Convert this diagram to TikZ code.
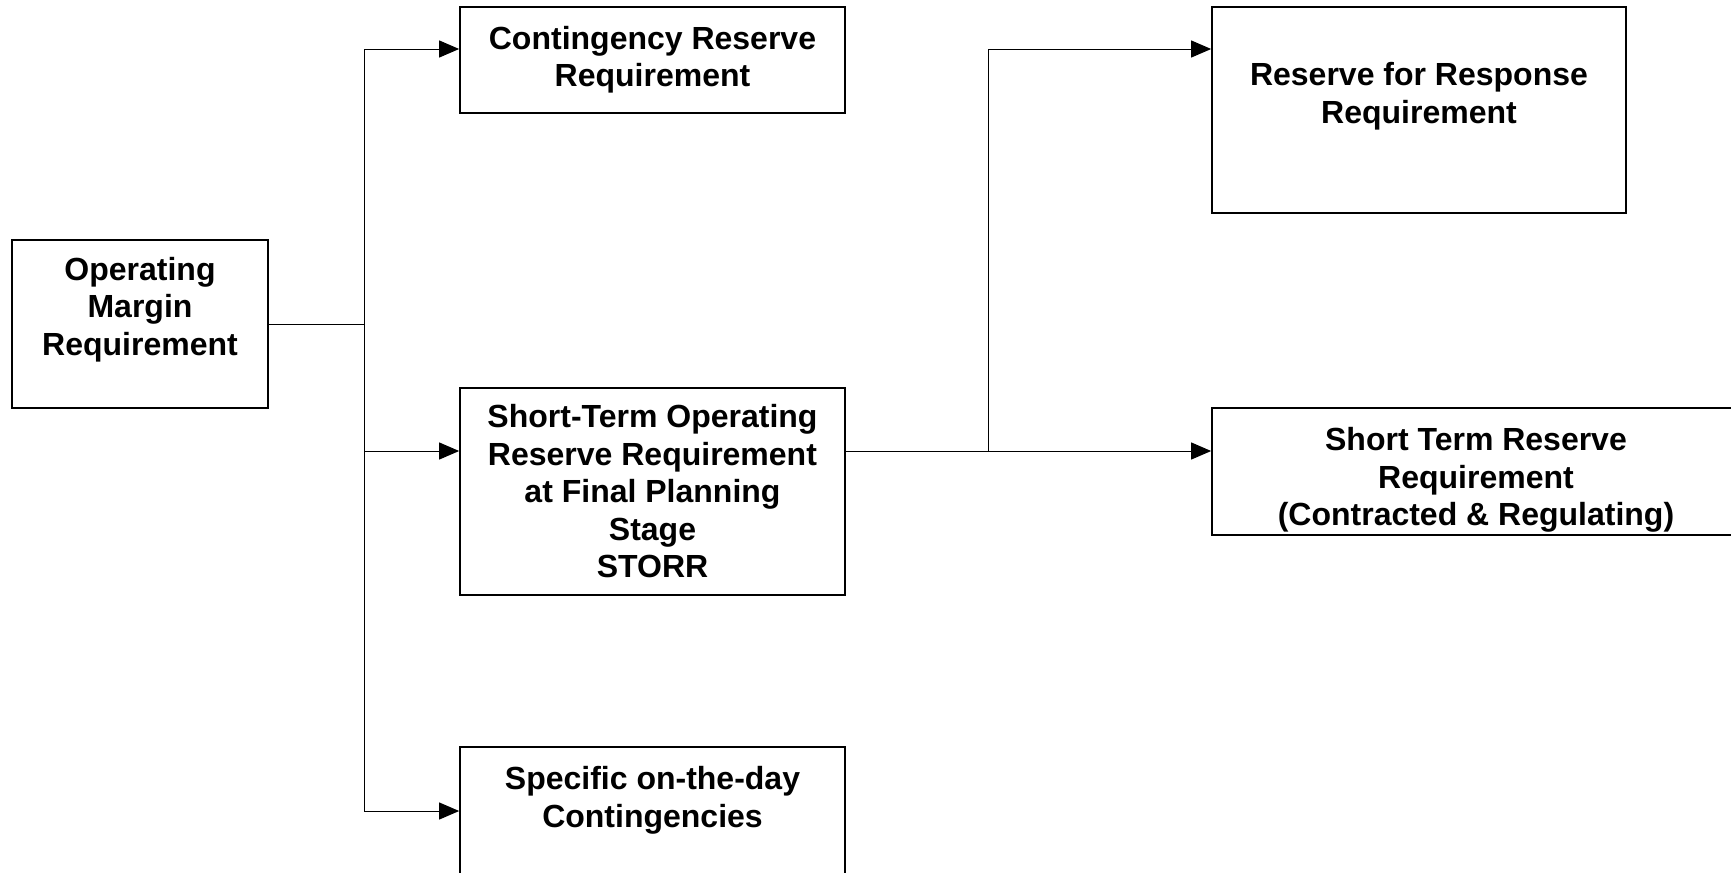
\documentclass[tikz,border=0pt]{standalone}
\usepackage{fontspec}
\setmainfont{Liberation Sans}
\usetikzlibrary{arrows.meta}
\begin{document}
\begin{tikzpicture}[x=0.5pt,y=-0.5pt,
  box/.style={draw, line width=0.85pt, rectangle, inner sep=0pt},
  lbl/.style={font=\fontsize{16}{18.8}\selectfont\bfseries, align=center, anchor=north, inner sep=0pt},
  conn/.style={draw, line width=0.5pt},
  arr/.style={conn, -{Triangle[length=10pt,width=8.5pt]}}]
\useasboundingbox (0,0) rectangle (1731,873);
\clip (0,0) rectangle (1731,873);
% boxes
\node[box, minimum width=128pt, minimum height=84pt] (omr) at (140,324) {};
\node[box, minimum width=192.5pt, minimum height=53pt] (crr) at (652.5,60) {};
\node[box, minimum width=192.5pt, minimum height=103.5pt] (storr) at (652.5,491.5) {};
\node[box, minimum width=192.5pt, minimum height=76.5pt] (sotd) at (652.5,823.5) {};
\node[box, minimum width=207pt, minimum height=103pt] (rfr) at (1419,110) {};
\node[box, minimum width=264pt, minimum height=63.5pt] (str) at (1476,471.5) {};
% labels
\node[lbl] (omr-t) at (140,256.5) {Operating\\Margin\\Requirement};
\node[lbl] (crr-t) at (652.5,25.5) {Contingency Reserve\\Requirement};
\node[lbl] (storr-t) at (652.5,404) {Short-Term Operating\\Reserve Requirement\\at Final Planning\\Stage\\STORR};
\node[lbl] (sotd-t) at (652.5,766) {Specific on-the-day\\Contingencies};
\node[lbl] (rfr-t) at (1419,62) {Reserve for Response\\Requirement};
\node[lbl] (str-t) at (1476,427) {Short Term Reserve\\Requirement\\(Contracted \& Regulating)};
% junctions
\coordinate (j) at (364,324);
\coordinate (t1) at (364,49);
\coordinate (t2) at (364,451);
\coordinate (t3) at (364,811);
\coordinate (b) at (988,451);
\coordinate (b1) at (988,49);
% connectors
\draw[conn] (omr.east |- j) -- (j);
\draw[conn] (t1) -- (t3);
\draw[arr] (t1) -- (t1 -| crr.west);
\draw[arr] (t2) -- (t2 -| storr.west);
\draw[arr] (t3) -- (t3 -| sotd.west);
\draw[arr] (storr.east |- b) -- (b -| str.west);
\draw[conn] (b) -- (b1);
\draw[arr] (b1) -- (b1 -| rfr.west);
\end{tikzpicture}
\end{document}
